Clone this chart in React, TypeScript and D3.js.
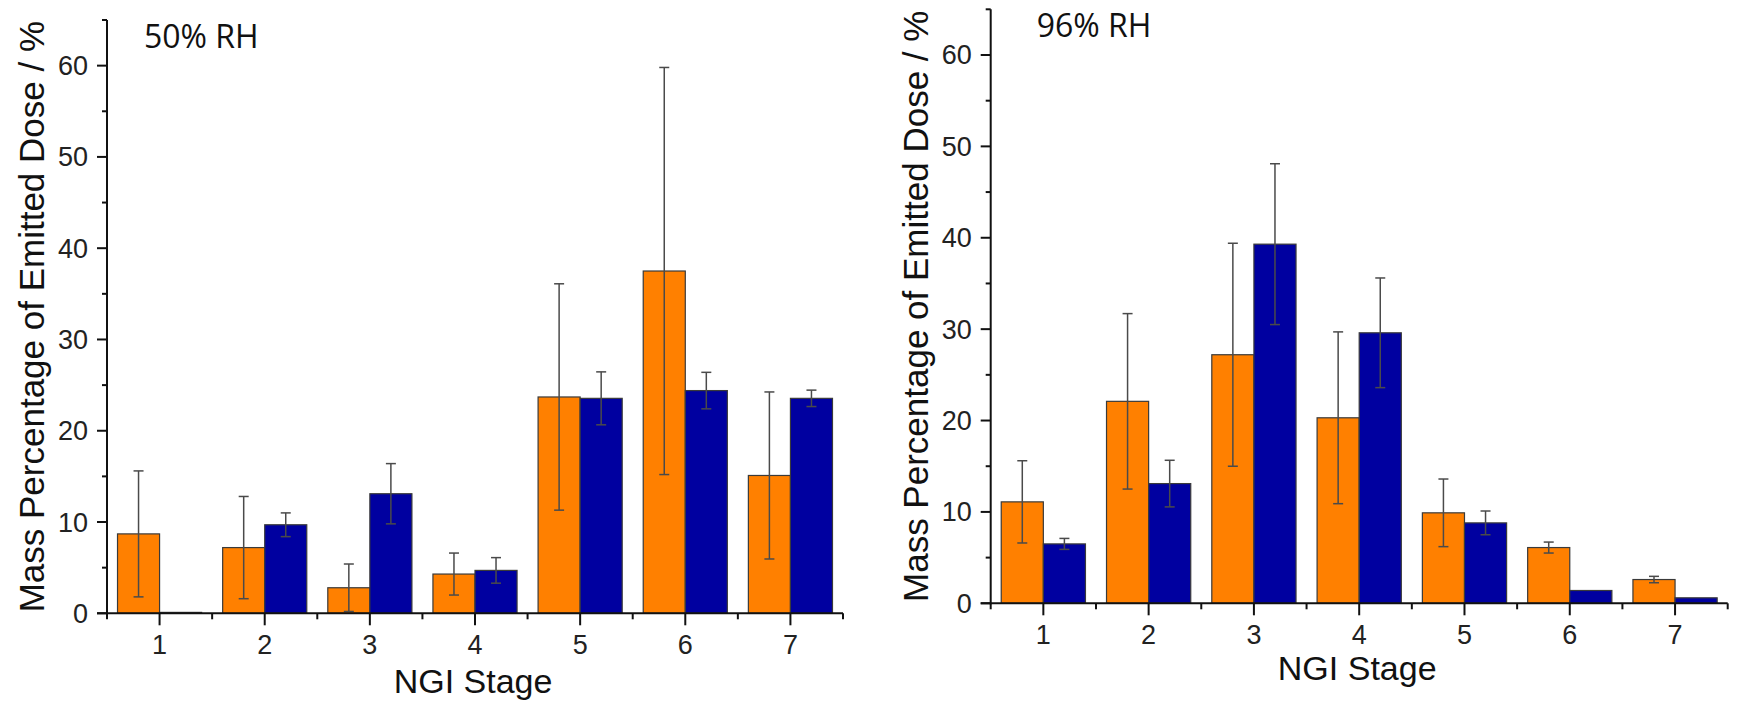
import React from "react";
import * as d3 from "d3";

// NGI stages
const stages = [1, 2, 3, 4, 5, 6, 7];

// 50% RH
const rh50Orange = [8.7, 7.2, 2.8, 4.3, 23.7, 37.5, 15.1];
const rh50OrangeErr = [6.9, 5.6, 2.6, 2.3, 12.4, 22.3, 9.15];
const rh50Blue = [0.1, 9.7, 13.1, 4.7, 23.55, 24.4, 23.55];
const rh50BlueErr = [0, 1.3, 3.3, 1.4, 2.9, 2.0, 0.9];

// 96% RH
const rh96Orange = [11.1, 22.1, 27.2, 20.3, 9.9, 6.1, 2.6];
const rh96OrangeErr = [4.5, 9.6, 12.2, 9.4, 3.7, 0.6, 0.35];
const rh96Blue = [6.5, 13.1, 39.3, 29.6, 8.8, 1.4, 0.6];
const rh96BlueErr = [0.6, 2.55, 8.8, 6.0, 1.3, 0, 0];

const yTicks = [0, 10, 20, 30, 40, 50, 60];
const yMinorTicks = [5, 15, 25, 35, 45, 55, 65];
const xMinorTicks = [0.5, 1.5, 2.5, 3.5, 4.5, 5.5, 6.5, 7.5];

const ORANGE = "#ff8000";
const BLUE = "#0000a0";
const ARIAL = "'Liberation Sans', Arial, sans-serif";

interface PanelProps {
  label: string;
  orange: number[];
  orangeErr: number[];
  blue: number[];
  blueErr: number[];
  left: number;
  right: number;
  zero: number;
  top: number;
  labelDx: number;
  xTitleDy: number;
}

const Panel: React.FC<PanelProps> = (p) => {
  const x = d3.scaleLinear().domain([0.5, 7.5]).range([p.left, p.right]);
  const y = d3.scaleLinear().domain([0, 65]).range([p.zero, p.top]);
  const bw = x(1.4) - x(1);

  const series = [
    { vals: p.orange, errs: p.orangeErr, color: ORANGE, off: -0.4 },
    { vals: p.blue, errs: p.blueErr, color: BLUE, off: 0 },
  ];

  return (
    <g>
      {/* bars */}
      {series.map((s, si) =>
        stages.map((st, i) => (
          <rect
            key={`b${si}-${i}`}
            x={x(st + s.off)}
            y={y(s.vals[i])}
            width={bw}
            height={p.zero - y(s.vals[i])}
            fill={s.color}
            stroke="#3a3a3a"
            strokeWidth={1.2}
          />
        ))
      )}
      {/* error bars */}
      {series.map((s, si) =>
        stages.map((st, i) => {
          if (!s.errs[i]) return null;
          const cx = x(st + s.off + 0.2);
          const y1 = y(s.vals[i] + s.errs[i]);
          const y2 = y(Math.max(0, s.vals[i] - s.errs[i]));
          return (
            <g key={`e${si}-${i}`} stroke="#4a4a4a" strokeWidth={1.5}>
              <line x1={cx} x2={cx} y1={y1} y2={y2} />
              <line x1={cx - 5} x2={cx + 5} y1={y1} y2={y1} />
              <line x1={cx - 5} x2={cx + 5} y1={y2} y2={y2} />
            </g>
          );
        })
      )}
      {/* axes */}
      <line x1={p.left} x2={p.left} y1={p.top} y2={p.zero + 1} stroke="#111" strokeWidth={2} />
      <line x1={p.left - 10} x2={p.right} y1={p.zero} y2={p.zero} stroke="#111" strokeWidth={2} />
      {yTicks.map((t) => (
        <g key={`yt${t}`}>
          <line x1={p.left - 10} x2={p.left} y1={y(t)} y2={y(t)} stroke="#111" strokeWidth={2} />
          <text
            x={p.left - 19}
            y={y(t) + 9.5}
            textAnchor="end"
            fontFamily={ARIAL}
            fontSize={27}
            fill="#222"
          >
            {t}
          </text>
        </g>
      ))}
      {yMinorTicks.map((t) => (
        <line key={`ym${t}`} x1={p.left - 5} x2={p.left} y1={y(t)} y2={y(t)} stroke="#111" strokeWidth={2} />
      ))}
      {stages.map((t) => (
        <g key={`xt${t}`}>
          <line x1={x(t)} x2={x(t)} y1={p.zero} y2={p.zero + 12} stroke="#111" strokeWidth={2} />
          <text
            x={x(t)}
            y={p.zero + 41}
            textAnchor="middle"
            fontFamily={ARIAL}
            fontSize={27}
            fill="#222"
          >
            {t}
          </text>
        </g>
      ))}
      {xMinorTicks.map((t) => (
        <line key={`xm${t}`} x1={x(t)} x2={x(t)} y1={p.zero} y2={p.zero + 6} stroke="#111" strokeWidth={2} />
      ))}
      {/* titles */}
      <text
        x={(p.left + p.right) / 2 - 2}
        y={p.zero + p.xTitleDy}
        textAnchor="middle"
        fontFamily={ARIAL}
        fontSize={34}
        fill="#111"
      >
        NGI Stage
      </text>
      <text
        transform={`translate(${p.left - 63},${(p.top + p.zero) / 2}) rotate(-90)`}
        textAnchor="middle"
        fontFamily={ARIAL}
        fontSize={35}
        fill="#111"
      >
        Mass Percentage of Emitted Dose / %
      </text>
      <text
        x={p.left + p.labelDx}
        y={p.top + 28}
        fontFamily="'Open Sans', sans-serif"
        fontSize={32}
        fill="#111"
      >
        {p.label}
      </text>
    </g>
  );
};

export default function App() {
  return (
    <svg
      width={1738}
      height={709}
      style={{ position: "absolute", left: 0, top: 0, background: "#fff" }}
    >
      <Panel
        label="50% RH"
        orange={rh50Orange}
        orangeErr={rh50OrangeErr}
        blue={rh50Blue}
        blueErr={rh50BlueErr}
        left={107}
        right={843}
        zero={613.3}
        top={20}
        labelDx={37}
        xTitleDy={80}
      />
      <Panel
        label="96% RH"
        orange={rh96Orange}
        orangeErr={rh96OrangeErr}
        blue={rh96Blue}
        blueErr={rh96BlueErr}
        left={990.7}
        right={1727.7}
        zero={603.3}
        top={9.3}
        labelDx={46}
        xTitleDy={77}
      />
    </svg>
  );
}
